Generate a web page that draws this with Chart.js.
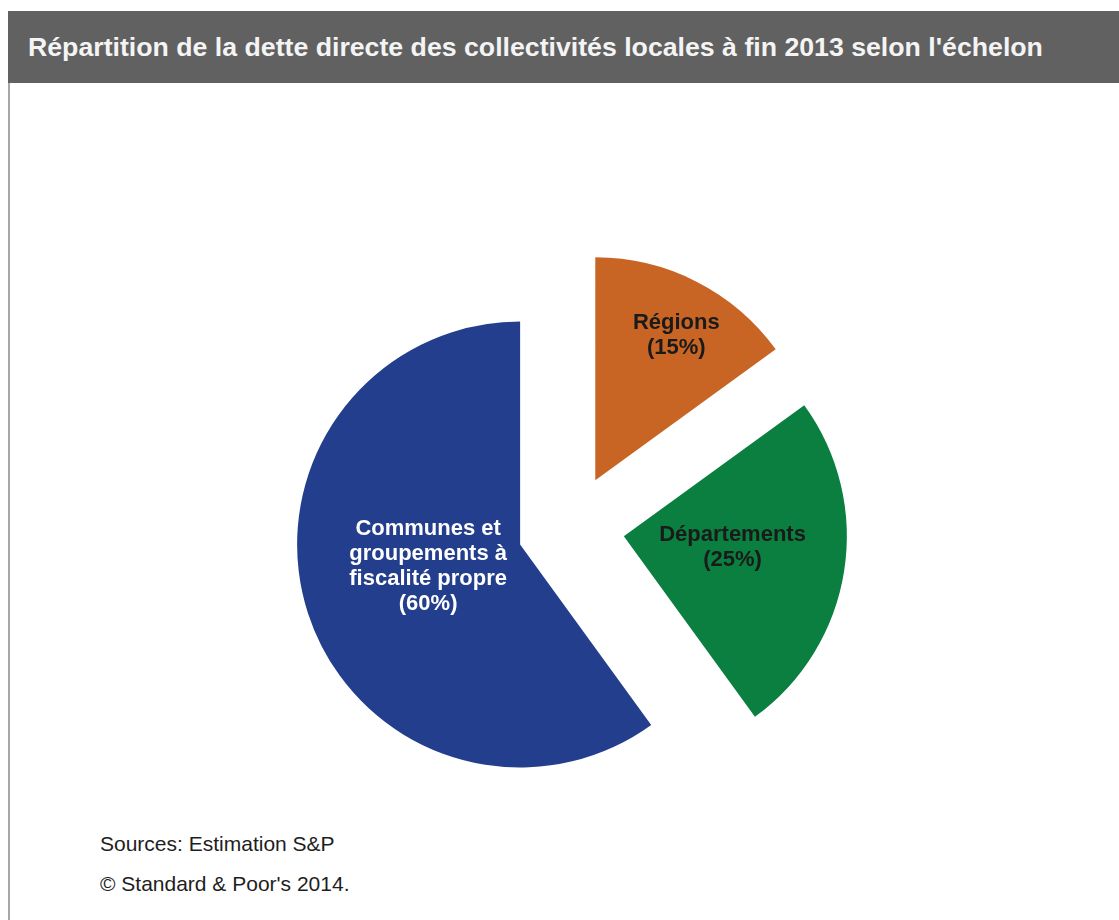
<!DOCTYPE html>
<html>
<head>
<meta charset="utf-8">
<script src="https://cdn.jsdelivr.net/npm/chart.js@4.4.1/dist/chart.umd.min.js"></script>
<style>
  body { margin: 0; background: #fff; font-family: "Liberation Sans", Arial, sans-serif; }
  #titlebar {
    position: absolute; left: 8px; top: 11px; width: 1111px; height: 72px;
    background: #616161; color: #f4f4f4; font-weight: bold; font-size: 26.7px;
    line-height: 72px; padding-left: 20px; box-sizing: border-box; white-space: nowrap;
  }
  #frame { position: absolute; left: 8px; top: 83px; height: 837px; border-left: 2px solid #a6a6a6; }
  #wrap { position: absolute; left: 271px; top: 228px; width: 600px; height: 600px; }
  .note { position: absolute; left: 100px; font-size: 21px; color: #1e1e1e; white-space: nowrap; }
</style>
</head>
<body>
<div id="titlebar">Répartition de la dette directe des collectivités locales à fin 2013 selon l'échelon</div>
<div id="frame"></div>
<div id="wrap"><canvas id="myChart" width="600" height="600"></canvas></div>
<div class="note" style="top:832px">Sources: Estimation S&amp;P</div>
<div class="note" style="top:872px">© Standard &amp; Poor's 2014.</div>
<script>
// data
var categories = ["Régions", "Départements", "Communes et groupements à fiscalité propre"];
var shares = [15, 25, 60];
var sliceLabels = [
    ["Régions", "(15%)"],
    ["Départements", "(25%)"],
    ["Communes et", "groupements à", "fiscalité propre", "(60%)"]
];
var colours = ["#c86524", "#0a7f40", "#233e8c"];
var textColours = ["#1a1a1a", "#1a1a1a", "#ffffff"];

// excel style "exploded" pie: every slice pushed out along its middle angle
var explode = {
    id: "explode",
    beforeDatasetDraw: function(chart, args, opts) {
        var c = chart.ctx;
        args.meta.data.forEach(function(arc) {
            var mid = (arc.startAngle + arc.endAngle) / 2;
            c.save();
            c.translate(opts.distance * Math.cos(mid), opts.distance * Math.sin(mid));
            arc.draw(c);
            c.restore();
        });
        return false;
    }
};

// text inside each slice
var sliceText = {
    id: "sliceText",
    afterDatasetsDraw: function(chart, args, opts) {
        var c = chart.ctx;
        var meta = chart.getDatasetMeta(0);
        var off = chart.options.plugins.explode.distance;
        c.save();
        c.font = "bold 22px 'Liberation Sans', Arial, sans-serif";
        c.textAlign = "center";
        c.textBaseline = "middle";
        meta.data.forEach(function(arc, i) {
            var mid = (arc.startAngle + arc.endAngle) / 2;
            var vx = arc.x + off * Math.cos(mid);
            var vy = arc.y + off * Math.sin(mid);
            var a = mid + opts.turn[i] * Math.PI / 180;
            var d = opts.dist[i] * arc.outerRadius;
            var cx = vx + d * Math.cos(a);
            var cy = vy + d * Math.sin(a);
            var lines = sliceLabels[i];
            var lh = 25;
            c.fillStyle = textColours[i];
            for (var k = 0; k < lines.length; k++) {
                c.fillText(lines[k], cx, cy + (k - (lines.length - 1) / 2) * lh);
            }
        });
        c.restore();
    }
};

var ctx = document.getElementById("myChart");
var myPie = new Chart(ctx, {
    type: "pie",
    data: {
        labels: categories,
        datasets: [{
            data: shares,
            backgroundColor: colours,
            borderWidth: 0
        }]
    },
    options: {
        responsive: false,
        animation: false,
        radius: 223,
        layout: { padding: 0 },
        plugins: {
            legend: { display: false },
            tooltip: { enabled: false },
            explode: { distance: 53.5 },
            sliceText: { dist: [0.745, 0.49, 0.424], turn: [2.2, -3.2, 4.6] }
        }
    },
    plugins: [explode, sliceText]
});
</script>
</body>
</html>
